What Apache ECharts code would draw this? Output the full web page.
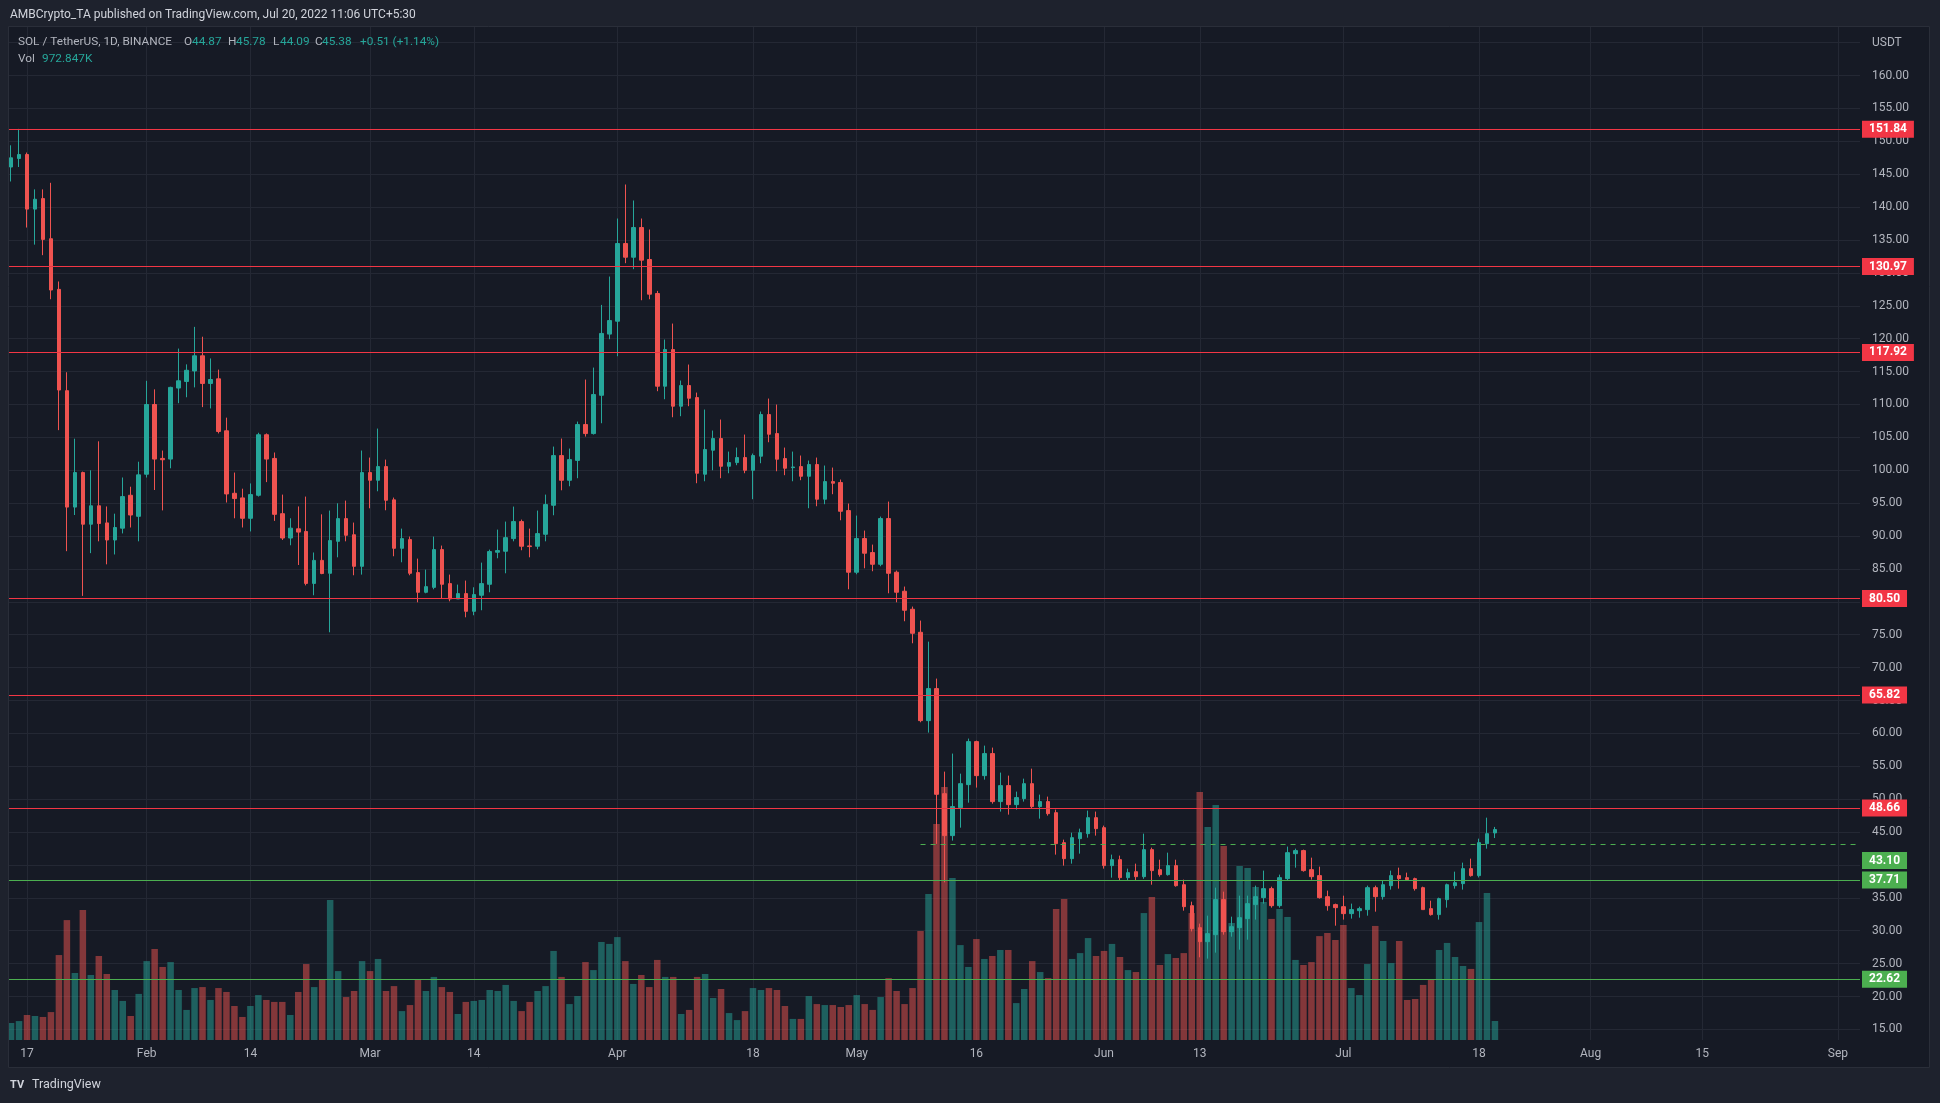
<!DOCTYPE html>
<html><head><meta charset="utf-8">
<script src="https://cdn.jsdelivr.net/npm/echarts@6/dist/echarts.min.js"></script>
<style>html,body{margin:0;padding:0;background:#1e222d;overflow:hidden}#c{width:1940px;height:1103px}</style>
</head><body><div id="c"></div>
<script>
// ---- data (SOL/USDT daily, Binance) ----
const startDate = '2022-01-15';
const open = [146.1,147.4,148.0,139.7,141.3,135.2,127.5,112.1,94.4,99.65,91.8,94.6,92.0,89.4,91.2,96.2,93.0,
99.4,110.0,101.8,101.7,112.5,113.5,115.1,117.4,113.2,113.9,106.0,96.5,95.8,92.7,96.2,105.4,101.8,93.4,89.7,91.1,90.7,82.8,86.3,84.34,89.2,92.65,90.2,85.4,
99.65,98.48,100.56,95.5,88.14,89.46,84.44,81.45,82.2,87.94,82.77,80.44,81.25,78.56,81.0,82.67,87.54,87.69,89.61,92.2,88.5,88.45,90.27,94.68,102.23,98.48,101.5,106.95,105.58,111.4,120.7,
122.66,134.47,132.39,136.9,132.04,126.87,112.78,118.35,109.74,112.88,111.05,99.4,103.05,104.82,100.61,101.17,101.93,100.0,102.14,108.47,105.58,101.78,100.4,100.56,99.09,100.87,95.6,98.28,98.13,93.87,
84.5,89.62,87.49,85.71,92.66,84.5,81.61,78.87,75.37,61.94,66.81,50.84,44.46,48.72,52.21,58.75,53.58,56.93,49.63,52.06,49.17,50.08,52.36,48.87,49.63,47.95,43.39,40.96,44.0,44.76,47.19,
45.67,39.9,40.81,38.07,38.98,38.22,42.33,39.29,38.53,39.9,37.0,33.81,30.47,28.34,29.4,34.73,29.86,30.47,31.84,33.97,35.03,36.4,33.81,37.92,41.72,42.18,39.29,38.38,35.18,33.97,
33.66,32.6,33.05,33.21,36.55,35.18,36.85,38.38,38.07,37.92,36.55,33.36,32.45,34.73,36.85,37.16,39.44,38.38,43.24,44.87];
const high = [149.4,151.9,148.3,142.7,142.7,143.7,128.7,114.9,104.8,99.8,100.0,104.4,94.5,93.4,98.9,97.5,101.3,
113.6,112.3,103.0,112.7,118.5,116.1,121.8,120.3,117.0,115.3,108.0,99.65,97.2,98.0,105.7,105.6,102.7,96.3,92.7,94.5,96.0,87.5,93.3,93.87,94.98,95.39,92.05,103.0,
101.93,106.34,101.62,95.85,91.13,89.92,86.57,84.9,89.92,88.55,84.14,82.62,83.23,82.21,85.96,87.94,90.98,92.2,94.48,92.5,91.13,93.87,96.3,103.6,104.82,103.3,107.4,113.79,115.61,125.14,129.45,
138.27,143.44,141.01,138.27,136.6,127.27,119.87,122.3,113.64,116.07,111.81,109.23,106.04,107.71,102.84,103.45,105.43,102.54,108.93,110.9,109.99,103.45,102.84,102.24,101.48,101.93,100.72,100.41,98.59,94.94,
93.11,90.83,88.7,92.96,95.24,84.75,82.32,79.28,77.15,73.95,68.33,54.19,56.93,53.88,59.21,58.9,58.14,57.84,54.04,53.58,51.15,53.12,54.64,50.69,50.39,48.41,43.85,44.91,45.52,48.26,48.11,
45.98,41.57,41.42,39.44,40.2,44.76,42.63,40.8,41.87,40.8,37.77,34.42,31.08,32.29,36.55,35.94,32.14,35.33,35.33,36.86,39.14,36.7,38.53,42.79,42.48,42.33,41.11,39.74,36.1,34.12,
35.33,34.12,33.66,36.86,36.86,37.62,39.14,39.59,38.83,38.07,36.7,34.57,35.03,37.16,38.98,40.35,40.96,44.0,47.19,45.78];
const low = [143.9,146.1,136.9,134.3,132.7,126.0,106.1,87.7,93.2,80.9,87.4,89.2,85.7,87.2,90.4,91.3,89.2,
98.9,97.0,93.9,100.3,110.2,111.1,112.6,109.6,109.4,105.6,95.1,92.7,91.3,90.7,96.0,98.2,92.3,89.4,88.6,85.6,82.5,81.0,84.2,75.37,86.77,89.2,84.04,84.14,
94.22,96.81,93.92,86.93,86.01,84.04,79.93,81.3,81.91,80.44,80.08,80.44,77.65,77.96,78.72,81.45,86.62,84.34,89.2,87.84,86.77,87.99,89.2,93.16,96.96,97.57,98.79,105.12,105.43,107.15,119.92,
117.34,131.48,130.57,125.85,126.0,112.02,110.8,108.06,108.22,109.74,98.03,98.33,100.0,98.79,99.55,100.77,99.55,95.6,101.07,104.26,99.85,99.25,98.33,98.49,94.23,94.53,94.84,96.36,92.4,81.91,
84.19,85.1,84.65,85.41,81.3,79.93,77.05,73.7,61.69,60.12,43.2,37.36,43.7,45.67,49.47,51.76,52.97,49.32,48.11,47.65,48.41,49.63,48.56,47.04,47.5,41.57,39.9,40.2,41.72,44.15,44.46,
39.44,38.07,37.6,37.6,37.6,37.9,37.0,38.22,38.38,36.7,33.05,29.9,25.96,25.76,26.67,29.4,29.1,27.12,28.64,31.69,34.12,33.51,33.5,37.62,39.59,38.98,37.77,34.88,33.05,30.77,
31.69,31.84,31.99,32.29,32.9,34.73,36.25,36.4,37.62,36.1,33.2,32.3,31.69,33.51,36.4,36.25,38.22,38.1,42.48,44.09];
const close = [147.5,148.0,139.7,141.2,135.1,127.4,112.2,94.4,99.65,91.8,94.6,91.9,89.4,91.3,96.0,93.2,99.3,
110.0,101.7,101.6,112.6,113.6,115.2,117.4,113.2,113.8,105.9,96.4,95.7,92.7,96.3,105.4,101.7,93.3,89.7,91.2,90.6,82.8,86.3,84.3,89.31,92.65,90.12,85.4,99.65,
98.48,100.56,95.44,88.14,89.61,84.34,81.45,82.31,87.94,82.67,80.44,81.25,78.56,81.1,82.77,87.64,87.79,89.76,92.2,88.45,88.4,90.37,94.78,102.23,98.48,101.62,106.95,105.58,111.51,120.8,122.76,
134.47,132.39,136.9,131.94,126.77,112.78,118.35,109.74,112.88,110.95,99.55,103.15,104.82,100.61,101.17,101.93,100.0,102.24,108.47,105.48,101.68,100.31,100.5,99.09,100.87,95.6,98.28,98.03,93.77,84.5,
89.62,87.39,85.71,92.66,84.34,81.46,78.72,75.22,61.94,66.81,50.74,44.46,48.87,52.36,58.75,53.58,56.93,49.63,52.06,49.17,50.24,52.36,48.87,49.63,47.8,43.24,40.96,44.15,44.91,47.19,45.52,
39.9,40.81,38.07,38.83,38.22,42.33,39.14,38.53,39.9,36.85,33.66,30.32,28.34,29.56,34.73,29.86,30.62,31.99,34.12,35.18,36.4,33.81,38.07,41.87,42.18,39.14,38.22,35.03,33.81,33.51,
32.6,33.21,33.36,36.55,35.18,37.0,38.38,37.92,37.77,36.4,33.21,32.45,34.88,37.0,37.31,39.44,38.38,43.39,44.76,45.38];
// volume in millions of SOL
const volume = [0.87,0.97,1.28,1.23,1.18,1.43,4.35,6.14,3.43,6.66,3.33,4.30,3.38,2.56,2.00,1.23,2.36,
4.04,4.66,3.74,3.99,2.56,1.54,2.66,2.71,2.05,2.66,2.46,1.74,1.18,1.74,2.30,2.05,1.95,1.95,1.28,2.46,3.89,2.71,3.12,7.17,3.53,2.20,2.51,4.04,
3.53,4.15,2.51,2.76,1.48,1.79,3.12,2.51,3.23,2.71,2.46,1.33,1.95,2.00,2.05,2.56,2.51,2.82,2.00,1.48,1.95,2.51,2.76,4.56,3.23,1.84,2.25,3.99,3.58,5.02,4.92,
5.27,4.04,2.87,3.33,2.71,4.10,3.23,3.23,1.33,1.54,3.23,3.38,2.15,2.61,1.38,1.02,1.48,2.66,2.56,2.66,2.56,1.74,1.08,1.08,2.25,1.84,1.79,1.79,1.69,1.79,
2.30,1.84,1.54,2.20,3.17,2.51,1.84,2.66,5.58,7.48,11.06,12.95,8.29,4.86,3.74,5.17,4.15,4.30,4.61,4.61,1.89,2.61,4.04,3.48,3.17,6.71,7.22,4.15,4.45,5.22,4.30,
4.56,4.92,4.25,3.58,3.48,6.50,7.32,3.84,4.40,4.20,4.45,6.50,12.70,10.91,12.03,9.93,5.99,8.91,8.81,7.83,7.07,6.20,6.71,6.30,4.10,3.84,3.99,5.32,5.48,5.12,
5.89,2.66,2.30,3.89,5.84,5.07,3.94,5.07,2.05,2.10,2.82,3.12,4.61,4.97,4.25,3.79,3.64,6.04,7.53,0.973];
const tickDates = ['2022-01-17','2022-02-01','2022-02-14','2022-03-01','2022-03-14','2022-04-01','2022-04-18','2022-05-01','2022-05-16','2022-06-01','2022-06-13','2022-07-01','2022-07-18','2022-08-01','2022-08-15','2022-09-01'];
const tickLabels = ['17','Feb','14','Mar','14','Apr','18','May','16','Jun','13','Jul','18','Aug','15','Sep'];
const resistanceLevels = [151.84,130.97,117.92,80.50,65.82,48.66];
const supportLevels = [37.71,22.62];
const dashedLevel = 43.10;
const dashedStart = '2022-05-09';

// ---- helpers ----
const ORIGIN = Date.UTC(2022,0,17);
function dayIdx(s){return (Date.UTC(+s.slice(0,4),+s.slice(5,7)-1,+s.slice(8,10))-ORIGIN)/86400000;}
const d0 = dayIdx(startDate);
const dates = open.map((_,i)=>d0+i);
const UP='#26a69a', DOWN='#ef5350', RED='#f23645', GREEN='#4caf50';
const X_MIN=-2.382, X_MAX=229.76;
const candleData = dates.map((d,i)=>[d,open[i],close[i],low[i],high[i]]);
const volData = dates.map((d,i)=>({value:[d,volume[i]],itemStyle:{color: close[i]>=open[i]?'rgba(38,166,154,0.5)':'rgba(239,83,80,0.5)'}}));
const tickDays = tickDates.map(dayIdx);
const labelMap = {}; tickDays.forEach((d,i)=>labelMap[d]=tickLabels[i]);
const FONT='Roboto';
const lblStyle = bg=>({show:true,position:'end',distance:2,color:'#fff',backgroundColor:bg,padding:[2,7,2,7],fontFamily:FONT,fontSize:12,fontWeight:'bold',lineHeight:13});
const mlData = [];
resistanceLevels.forEach(v=>mlData.push({yAxis:v,lineStyle:{color:RED,width:1,type:'solid'},label:Object.assign(lblStyle(RED),{formatter:v.toFixed(2)})}));
supportLevels.forEach(v=>mlData.push({yAxis:v,lineStyle:{color:GREEN,width:1,type:'solid'},label:Object.assign(lblStyle(GREEN),{formatter:v.toFixed(2)})}));
const dashLbl = Object.assign(lblStyle(GREEN),{formatter:dashedLevel.toFixed(2),offset:[0,16]});
mlData.push([
  {coord:[dayIdx(dashedStart),dashedLevel],lineStyle:{color:GREEN,width:1,type:[5,5]},label:dashLbl},
  {coord:[X_MAX,dashedLevel],lineStyle:{color:GREEN,width:1,type:[5,5]},label:dashLbl}
]);

const OUTER='#1e222d', PANE='#161a25', GRIDC='#242834', TXT='#b2b5be';
const LF='11.8px Roboto';
const chart = echarts.init(document.getElementById('c'),null,{renderer:'canvas'});
chart.setOption({
  animation:false,
  backgroundColor:PANE,
  grid:[
    {left:8,right:80,top:9.8,bottom:40.7},
    {left:8,right:80,top:26,bottom:63}
  ],
  xAxis:[
    {gridIndex:0,type:'value',min:X_MIN,max:X_MAX,show:false,splitLine:{show:false}},
    {gridIndex:1,type:'value',min:X_MIN,max:X_MAX,
     axisLine:{show:false},axisTick:{show:false,customValues:tickDays},
     axisLabel:{customValues:tickDays,formatter:v=>labelMap[v]||'',color:TXT,fontFamily:FONT,fontSize:12,margin:8},
     splitLine:{show:true,lineStyle:{color:GRIDC,width:1}}}
  ],
  yAxis:[
    {gridIndex:0,type:'value',position:'right',min:10,max:170,interval:5,
     axisLine:{show:false},axisTick:{show:false},
     axisLabel:{color:TXT,fontFamily:FONT,fontSize:12,margin:12,showMinLabel:false,showMaxLabel:false,
       formatter:v=>v===165?'USDT':v.toFixed(2)},
     splitLine:{show:true,showMinLine:false,showMaxLine:false,lineStyle:{color:GRIDC,width:1}}},
    {gridIndex:1,type:'value',min:0,max:51.92,show:false,splitLine:{show:false}}
  ],
  series:[
    {type:'bar',name:'Vol',xAxisIndex:1,yAxisIndex:1,data:volData,barWidth:6.5,z:1},
    {type:'candlestick',name:'SOL',xAxisIndex:0,yAxisIndex:0,data:candleData,encode:{x:0,y:[1,2,3,4]},
     barWidth:4,z:3,
     itemStyle:{color:UP,color0:DOWN,borderColor:UP,borderColor0:DOWN,borderWidth:1},
     markLine:{silent:true,symbol:['none','none'],animation:false,precision:2,data:mlData}}
  ],
  graphic:[
    {type:'rect',shape:{x:0,y:0,width:1940,height:26},style:{fill:OUTER},z:50},
    {type:'rect',shape:{x:0,y:0,width:8,height:1103},style:{fill:OUTER},z:50},
    {type:'rect',shape:{x:1930,y:0,width:10,height:1103},style:{fill:OUTER},z:50},
    {type:'rect',shape:{x:0,y:1068,width:1940,height:35},style:{fill:OUTER},z:50},
    {type:'rect',shape:{x:8.5,y:26.5,width:1921,height:1041},style:{fill:'none',stroke:'#2a2e39',lineWidth:1},z:51},
    {type:'text',x:10,y:15,style:{text:'AMBCrypto_TA published on TradingView.com, Jul 20, 2022 11:06 UTC+5:30',fill:'#d1d4dc',font:'12px Roboto',verticalAlign:'middle'},z:52},
    {type:'text',x:18,y:42,style:{text:'SOL / TetherUS, 1D, BINANCE',fill:TXT,font:LF,verticalAlign:'middle'},z:52},
    {type:'text',x:184,y:42,style:{text:'O',fill:TXT,font:LF,verticalAlign:'middle'},z:52},
    {type:'text',x:192,y:42,style:{text:open[open.length-1].toFixed(2),fill:UP,font:LF,verticalAlign:'middle'},z:52},
    {type:'text',x:228,y:42,style:{text:'H',fill:TXT,font:LF,verticalAlign:'middle'},z:52},
    {type:'text',x:236,y:42,style:{text:high[high.length-1].toFixed(2),fill:UP,font:LF,verticalAlign:'middle'},z:52},
    {type:'text',x:273,y:42,style:{text:'L',fill:TXT,font:LF,verticalAlign:'middle'},z:52},
    {type:'text',x:280,y:42,style:{text:low[low.length-1].toFixed(2),fill:UP,font:LF,verticalAlign:'middle'},z:52},
    {type:'text',x:315,y:42,style:{text:'C',fill:TXT,font:LF,verticalAlign:'middle'},z:52},
    {type:'text',x:322,y:42,style:{text:close[close.length-1].toFixed(2),fill:UP,font:LF,verticalAlign:'middle'},z:52},
    {type:'text',x:360,y:42,style:{text:'+0.51 (+1.14%)',fill:UP,font:LF,verticalAlign:'middle'},z:52},
    {type:'text',x:18,y:59,style:{text:'Vol',fill:TXT,font:LF,verticalAlign:'middle'},z:52},
    {type:'text',x:42,y:59,style:{text:'972.847K',fill:UP,font:LF,verticalAlign:'middle'},z:52},
    {type:'text',x:10,y:1085,style:{text:'TV',fill:'#d1d4dc',font:'bold 11px Roboto',verticalAlign:'middle'},z:52},
    {type:'text',x:32,y:1085,style:{text:'TradingView',fill:'#d1d4dc',font:'12.5px Roboto',verticalAlign:'middle'},z:52}
  ]
});
</script></body></html>
